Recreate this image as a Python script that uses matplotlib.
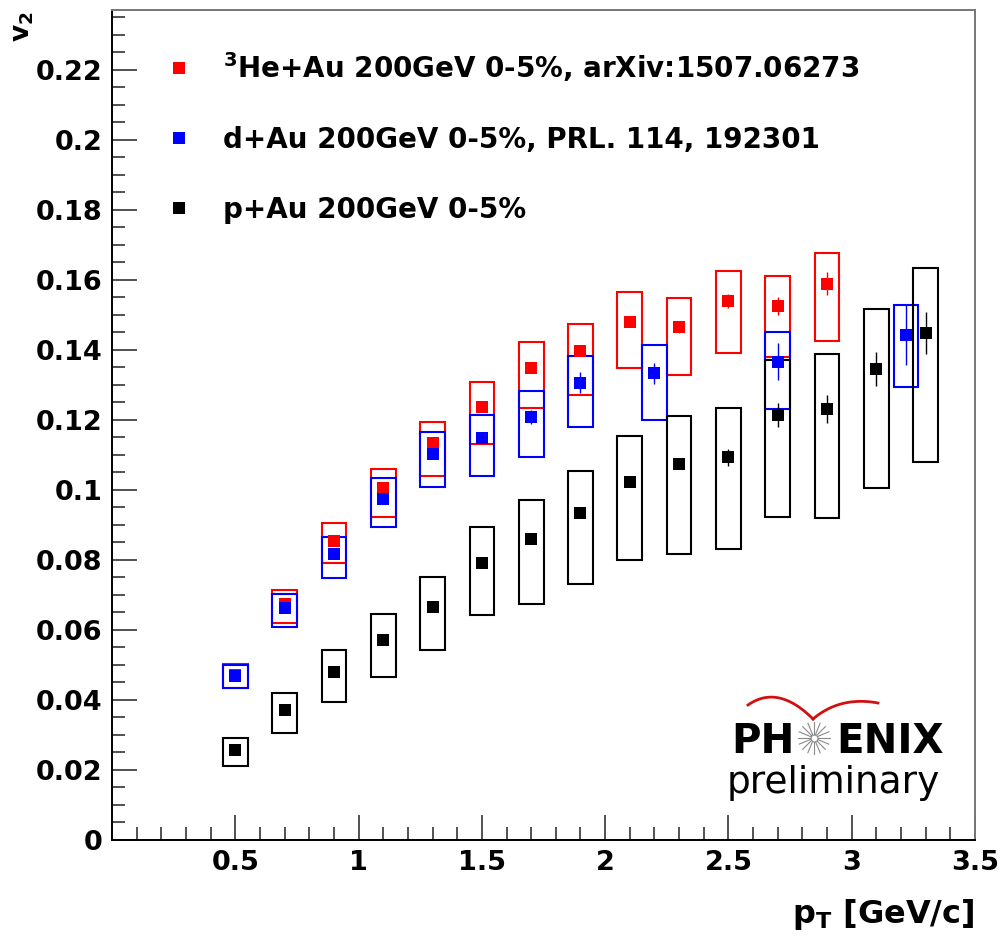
import numpy as np
import matplotlib
matplotlib.use('Agg')
import matplotlib.pyplot as plt
from matplotlib.ticker import MultipleLocator, FixedLocator, FuncFormatter

plt.rcParams['font.family'] = ['DejaVu Sans']
plt.rcParams['font.weight'] = 'bold'
plt.rcParams['mathtext.fontset'] = 'dejavusans'

# 3He+Au 0-5%
pt_he = [0.5, 0.7, 0.9, 1.1, 1.3, 1.5, 1.7, 1.9, 2.1, 2.3, 2.5, 2.7, 2.9]
v2_he = [0.0470, 0.0675, 0.0855, 0.1005, 0.1133, 0.1237, 0.1349, 0.1397, 0.1480, 0.1466, 0.1540, 0.1526, 0.1589]
stat_he = [0.0008, 0.0010, 0.0010, 0.0010, 0.0010, 0.0012, 0.0012, 0.0015, 0.0015, 0.0018, 0.0020, 0.0025, 0.0033]
sys_he_lo = [0.0435, 0.0620, 0.0790, 0.0923, 0.1040, 0.1131, 0.1234, 0.1271, 0.1349, 0.1329, 0.1391, 0.1380, 0.1426]
sys_he_hi = [0.0502, 0.0714, 0.0906, 0.1060, 0.1194, 0.1309, 0.1423, 0.1474, 0.1566, 0.1549, 0.1626, 0.1611, 0.1677]

# d+Au 0-5%
pt_d = [0.5, 0.7, 0.9, 1.1, 1.3, 1.5, 1.7, 1.9, 2.2, 2.7, 3.22]
v2_d = [0.0469, 0.0662, 0.0817, 0.0974, 0.1103, 0.1149, 0.1209, 0.1306, 0.1334, 0.1366, 0.1443]
stat_d = [0.0008, 0.0008, 0.0010, 0.0010, 0.0012, 0.0015, 0.0020, 0.0030, 0.0030, 0.0053, 0.0085]
sys_d_lo = [0.0434, 0.0609, 0.0749, 0.0895, 0.1009, 0.1040, 0.1094, 0.1180, 0.1200, 0.1231, 0.1294]
sys_d_hi = [0.0500, 0.0703, 0.0866, 0.1034, 0.1166, 0.1214, 0.1283, 0.1383, 0.1414, 0.1451, 0.1529]

# p+Au 0-5%
pt_p = [0.5, 0.7, 0.9, 1.1, 1.3, 1.5, 1.7, 1.9, 2.1, 2.3, 2.5, 2.7, 2.9, 3.1, 3.3]
v2_p = [0.0257, 0.0371, 0.0480, 0.0571, 0.0666, 0.0791, 0.0860, 0.0934, 0.1022, 0.1074, 0.1093, 0.1214, 0.1231, 0.1346, 0.1449]
stat_p = [0.0006, 0.0008, 0.0008, 0.0009, 0.0010, 0.0010, 0.0012, 0.0012, 0.0015, 0.0015, 0.0025, 0.0033, 0.0040, 0.0049, 0.0060]
sys_p_lo = [0.0211, 0.0305, 0.0394, 0.0466, 0.0543, 0.0643, 0.0674, 0.0731, 0.0800, 0.0817, 0.0831, 0.0923, 0.0920, 0.1006, 0.1080]
sys_p_hi = [0.0291, 0.0420, 0.0543, 0.0646, 0.0751, 0.0894, 0.0971, 0.1054, 0.1154, 0.1211, 0.1234, 0.1371, 0.1389, 0.1517, 0.1634]

labels = [r'$^{\mathbf{3}}$He+Au 200GeV 0-5%, arXiv:1507.06273',
          'd+Au 200GeV 0-5%, PRL. 114, 192301',
          'p+Au 200GeV 0-5%']
colors = ['#ff0000', '#0000ff', '#000000']

fig = plt.figure(figsize=(10.06, 9.41), dpi=100)
ax = fig.add_axes([112/1006, 101/941, 863/1006, 830/941])

sets = [(pt_he, v2_he, stat_he, sys_he_lo, sys_he_hi),
        (pt_d, v2_d, stat_d, sys_d_lo, sys_d_hi),
        (pt_p, v2_p, stat_p, sys_p_lo, sys_p_hi)]

handles = []
for i, (x, y, e, lo, hi) in enumerate(sets):
    c = colors[i]
    lo = np.array(lo)
    hi = np.array(hi)
    # systematic boxes
    ax.bar(x, hi - lo, bottom=lo, width=0.1, fill=False, edgecolor=c,
           linewidth=1.5, zorder=2 + i * 0.1)
    eb = ax.errorbar(x, y, yerr=e, fmt='s', color=c, ms=8.5, mew=0,
                     elinewidth=1.0, capsize=4, capthick=1.0, zorder=3 + i * 0.1)
    handles.append(eb[0])

ax.set_xlim(0, 3.5)
ax.set_ylim(0, 0.2371)

ax.xaxis.set_major_locator(FixedLocator(np.arange(0.5, 3.51, 0.5)))
ax.xaxis.set_minor_locator(MultipleLocator(0.1))
ax.yaxis.set_major_locator(MultipleLocator(0.02))
ax.yaxis.set_minor_locator(MultipleLocator(0.005))
fmt = FuncFormatter(lambda v, p: '%g' % round(v, 3))
ax.xaxis.set_major_formatter(fmt)
ax.yaxis.set_major_formatter(fmt)

ax.tick_params(which='both', direction='in', top=False, right=False,
               labelsize=19.5, width=1.1, color='#222222')
ax.tick_params(which='major', length=18, pad=7)
ax.tick_params(which='minor', length=9.5)
for s in ['left', 'bottom']:
    ax.spines[s].set_linewidth(1.4)
for s in ['top', 'right']:
    ax.spines[s].set_linewidth(1.4)
    ax.spines[s].set_color('#777777')

leg = ax.legend(handles, labels, loc='upper left', bbox_to_anchor=(0.0615, 0.952),
                frameon=False, fontsize=20, numpoints=1, handlelength=1.0,
                handletextpad=1.08, labelspacing=1.52, borderpad=0, borderaxespad=0)

fig.text(974/1006, 18/941, r'$\mathbf{p}_{\mathbf{T}}$ [GeV/c]', ha='right', va='baseline',
         fontsize=23, fontweight='bold')
fig.text(23/1006, 1 - 11/941, r'$\mathbf{v}_{\mathbf{2}}$', ha='center', va='top',
         rotation=90, fontsize=19, fontweight='bold')

# PHENIX preliminary logo (pixel coordinates overlay)
lax = fig.add_axes([0, 0, 1, 1])
lax.set_xlim(0, 1006)
lax.set_ylim(941, 0)
lax.axis('off')
lax.text(731, 753, 'PH', fontsize=29, fontweight='bold', ha='left', va='baseline')
lax.text(836, 753, 'ENIX', fontsize=29, fontweight='bold', ha='left', va='baseline')
lax.text(727, 793, 'preliminary', fontsize=27, fontweight='normal', ha='left', va='baseline')
cx, cy = 814, 738
for a in np.linspace(0, np.pi, 9)[:-1]:
    dx, dy = 16 * np.cos(a), 16 * np.sin(a)
    lax.plot([cx - dx, cx + dx], [cy - dy, cy + dy], color='#8a8a8a', lw=0.8)
lax.plot(cx, cy, 'o', ms=5, mfc='white', mec='#8a8a8a', mew=0.8)
t = np.linspace(0, 1, 40)
lx = (1 - t) ** 2 * 748 + 2 * (1 - t) * t * 778 + t ** 2 * 813
ly = (1 - t) ** 2 * 705 + 2 * (1 - t) * t * 684 + t ** 2 * 719
rx = (1 - t) ** 2 * 813 + 2 * (1 - t) * t * 840 + t ** 2 * 878
ry = (1 - t) ** 2 * 719 + 2 * (1 - t) * t * 696 + t ** 2 * 703
lax.plot(lx, ly, color='#d11010', lw=2)
lax.plot(rx, ry, color='#d11010', lw=2)

fig.savefig('out.png', dpi=100)
